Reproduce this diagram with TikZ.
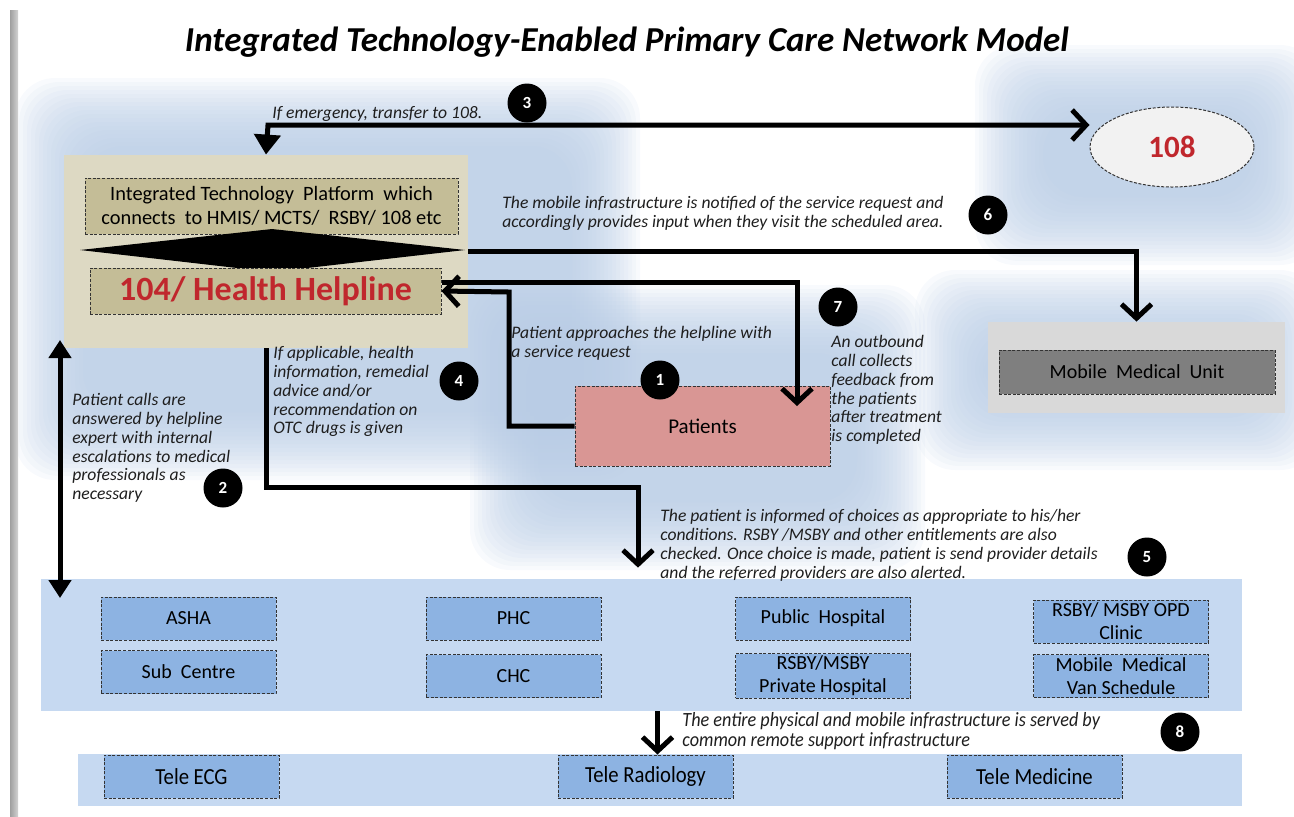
\documentclass[tikz,border=0pt]{standalone}
\usepackage{fontspec}
\setmainfont{Carlito}
\newfontfamily\narrowfont[FakeStretch=0.9]{Carlito}
\usetikzlibrary{arrows.meta,shapes.geometric}

\definecolor{glow}{RGB}{182,202,228}
\definecolor{beige}{RGB}{221,217,195}
\definecolor{khaki}{RGB}{196,189,151}
\definecolor{salmon}{RGB}{217,150,148}
\definecolor{bandblue}{RGB}{198,217,241}
\definecolor{boxblue}{RGB}{141,179,226}
\definecolor{mmuback}{RGB}{217,217,217}
\definecolor{mmugray}{RGB}{127,127,127}
\definecolor{ovalgray}{RGB}{242,242,242}
\definecolor{alertred}{RGB}{192,39,45}
\definecolor{notetext}{RGB}{30,30,30}

\begin{document}
\begin{tikzpicture}[x=0.5pt,y=-0.5pt]
    \tikzset{unitbase/.style = {draw=black!80, dash pattern=on 1.5pt off 0.8pt, line width=0.5pt, inner sep=1pt, align=center, font=\fontsize{10}{11.5}\selectfont}}
    \tikzset{unit/.style = {unitbase, fill=boxblue, minimum width=87.5pt, minimum height=21.5pt}}
    \tikzset{teleunit/.style = {unit, font=\narrowfont\fontsize{11.5}{12}\selectfont}}
    \tikzset{band/.style = {fill=bandblue, inner sep=0}}
    \tikzset{numdot/.style = {circle, fill=black, text=white, minimum size=19.5pt, inner sep=0, font=\fontsize{8.5}{8.5}\selectfont\bfseries}}
    \tikzset{note/.style = {anchor=north west, inner sep=0, align=left, text=notetext, font=\fontsize{8.8}{9.4}\selectfont\itshape}}
    \tikzset{flow/.style = {draw=black, line width=2.5pt}}
    \tikzset{barb/.style = {flow, -{Straight Barb[length=7pt,width=15pt]}}}
    \tikzset{glowlayer/.style = {fill=glow, opacity=0.09, rounded corners=20pt}}

    \useasboundingbox (0,0) rectangle (1294,816);

    % background glow
    \foreach \i in {0,...,17} {
        \fill[glowlayer] (15+4*\i,78+4*\i) rectangle (640-4*\i,480-4*\i);
        \fill[glowlayer] (470+4*\i,285+4*\i) rectangle (925-4*\i,570-4*\i);
        \fill[glowlayer] (975+4*\i,45+4*\i) rectangle (1320-4*\i,265-4*\i);
        \fill[glowlayer] (915+4*\i,270+4*\i) rectangle (1320-4*\i,470-4*\i);
    }
    \shade[left color=gray!75, right color=gray!35] (10,10) rectangle (18,816);

    % title
    \node (title) at (627,42) {\fontsize{17.5}{20}\selectfont\bfseries\itshape Integrated Technology-Enabled Primary Care Network Model};

    % helpline block
    \node[fill=beige, minimum width=202pt, minimum height=96.5pt, inner sep=0] (hub) at (266,251.5) {};
    \node[unitbase, fill=khaki, minimum width=186.5pt, minimum height=28pt, font=\fontsize{10.2}{12}\selectfont] (platform) at (271.5,206)
        {Integrated Technology\ \ Platform\ \ which\\connects\ \ to HMIS/ MCTS/\ \ RSBY/ 108 etc};
    \fill[black] (80,250) -- (272,229) -- (465,250) -- (272,272) -- cycle;
    \node[unitbase, fill=khaki, minimum width=175.5pt, minimum height=23pt, text=alertred, font=\fontsize{17}{19}\selectfont\bfseries] (h104) at (265.5,291) {104/ Health Helpline};

    % other units
    \node[ellipse, draw=black!80, dash pattern=on 1.5pt off 0.8pt, line width=0.5pt, fill=ovalgray, minimum width=82pt, minimum height=40pt, inner sep=0,
        text=alertred, font=\fontsize{15.5}{17}\selectfont\bfseries] (amb) at (1172,147) {108};
    \node[fill=mmuback, minimum width=148.5pt, minimum height=45.5pt, inner sep=0] (mmuback) at (1136.5,367.5) {};
    \node[unitbase, fill=mmugray, minimum width=138pt, minimum height=22pt, font=\fontsize{10}{12}\selectfont] (mmu) at (1137,372) {Mobile\ \ Medical\ \ Unit};
    \node[unitbase, fill=salmon, minimum width=127.5pt, minimum height=40pt, font=\fontsize{10.5}{12}\selectfont] (patients) at (702.5,426) {Patients};

    % providers
    \node[band, minimum width=600.5pt, minimum height=66pt] (providers) at (641.5,645) {};
    \node[unit] (asha) at (188.5,618.5) {ASHA};
    \node[unit] (subc) at (188.5,672) {Sub\ \ Centre};
    \node[unit] (phc) at (513.5,618.5) {PHC};
    \node[unit] (chc) at (513.5,676) {CHC};
    \node[unit] (pubhosp) at (823,618.5) {Public\ \ Hospital};
    \node[unit] (privhosp) at (823,676) {RSBY/MSBY\\Private Hospital};
    \node[unit] (opd) at (1121,621.5) {RSBY/ MSBY OPD\\Clinic};
    \node[unit] (van) at (1121,676) {Mobile\ \ Medical\\Van Schedule};

    % remote support
    \node[band, minimum width=582pt, minimum height=26pt] (remote) at (660,780) {};
    \node[teleunit] (teleecg) at (191.5,776.5) {Tele ECG};
    \node[teleunit] (telerad) at (645.5,776.5) {Tele Radiology};
    \node[teleunit] (telemed) at (1034.5,776.5) {Tele Medicine};

    % bends
    \coordinate (k3) at (268,125);
    \coordinate (k1) at (509,292);
    \coordinate (k7) at (797,282);
    \coordinate (k7end) at (797,406);
    \coordinate (k4) at (638,487);
    \coordinate (k2top) at (60,340);
    \coordinate (k2bot) at (60,598);

    % connectors
    \draw[flow, {Triangle[length=10pt,width=13pt]}-{Straight Barb[length=7pt,width=15pt]}] (hub.north) -- (k3) -- (k3 -| amb.west);
    \draw[barb] (hub.east) -| (mmuback.north);
    \draw[barb] (patients.west) -| (k1) -- (h104.east);
    \draw[barb] (h104.east |- k7) -- (k7) -- (k7end);
    \draw[barb] (hub.south) |- (k4) -- ([yshift=5.5pt]k4 |- providers.north);
    \draw[flow, {Triangle[length=9pt,width=11pt]}-{Triangle[length=9pt,width=11pt]}] (k2top) -- (k2bot);
    \draw[barb] ([xshift=6pt]providers.south -| telerad.north) -- ([xshift=6pt]telerad.north);

    % step numbers
    \node[numdot] (n1) at (660,380) {1};
    \node[numdot] (n2) at (223,488) {2};
    \node[numdot] (n3) at (527,103) {3};
    \node[numdot] (n4) at (459,381) {4};
    \node[numdot] (n5) at (1147,557) {5};
    \node[numdot] (n6) at (988,215) {6};
    \node[numdot] (n7) at (838,307) {7};
    \node[numdot] (n8) at (1180,732) {8};

    % notes
    \node[note] (t3) at (272,106) {If emergency, transfer to 108.};
    \node[note] (t6) at (502,196) {The mobile infrastructure is notified of the service request and\\accordingly provides input when they visit the scheduled area.};
    \node[note] (t1) at (511,326) {Patient approaches the helpline with\\a service request};
    \node[note] (t4) at (273,346) {If applicable, health\\information, remedial\\advice and/or\\recommendation on\\OTC drugs is given};
    \node[note] (t2) at (72,393) {Patient calls are\\answered by helpline\\expert with internal\\escalations to medical\\professionals as\\necessary};
    \node[note] (t7) at (831,335) {An outbound\\call collects\\feedback from\\the patients\\after treatment\\is completed};
    \node[note] (t5) at (660,509) {The patient is informed of choices as appropriate to his/her\\conditions. RSBY /MSBY and other entitlements are also\\checked. Once choice is made, patient is send provider details\\and the referred providers are also alerted.};
    \node[note, font=\narrowfont\fontsize{10.1}{10}\selectfont\itshape] (t8) at (682,712) {The entire physical and mobile infrastructure is served by\\common remote support infrastructure};
\end{tikzpicture}
\end{document}
